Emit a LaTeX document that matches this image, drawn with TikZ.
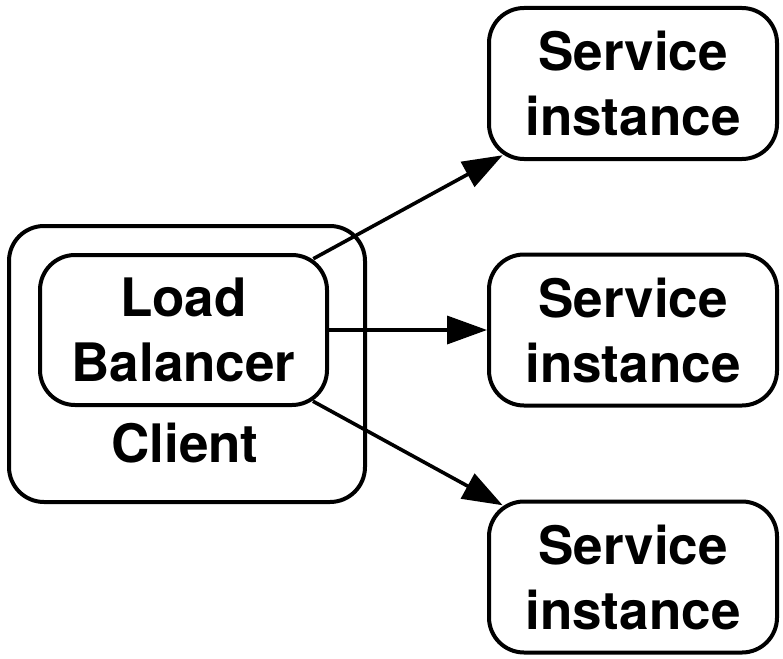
\documentclass[tikz,border=0pt]{standalone}
\usepackage{fontspec}
\setmainfont{TeX Gyre Heros}
\usetikzlibrary{arrows.meta}
\begin{document}
\begin{tikzpicture}[x=1pt,y=-1pt,
  txt/.style={font=\fontsize{53}{65}\selectfont\bfseries, align=center},
  box/.style={txt, draw, line width=4pt, rounded corners=35pt, inner sep=0pt},
  svc/.style={box, minimum width=288pt, minimum height=151pt},
  link/.style={line width=3.6pt, -{Triangle[length=40pt,width=28pt]}}]
\useasboundingbox (0,0) rectangle (783,658);
\node[box, minimum width=356pt, minimum height=276pt] (client) at (187,364) {};
\node[box, minimum width=287pt, minimum height=150pt] (lb) at (183.5,330) {Load\\Balancer};
\node[txt, anchor=base, inner sep=0pt] (clientlabel) at (185,462) {Client};
\node[svc] (s1) at (633,83.5) {Service\\instance};
\node[svc] (s2) at (633,330) {Service\\instance};
\node[svc] (s3) at (633,577) {Service\\instance};
\draw[link, shorten <=-12pt, shorten >=-12pt] (lb) -- (s1);
\draw[link] (lb) -- (s2);
\draw[link, shorten <=-12pt, shorten >=-12pt] (lb) -- (s3);
\end{tikzpicture}
\end{document}
